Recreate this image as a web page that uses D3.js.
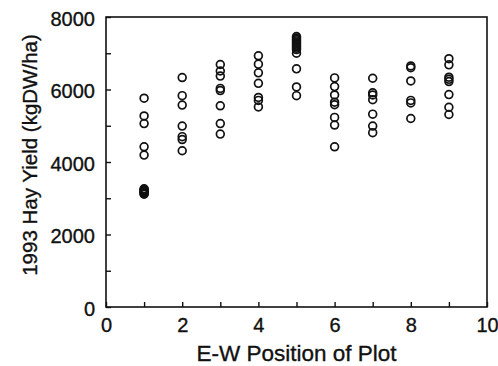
<!DOCTYPE html>
<html><head><meta charset="utf-8">
<script src="https://cdn.jsdelivr.net/npm/d3@7"></script>
<style>body{margin:0;background:#fff}svg text{font-family:"Liberation Sans",Arial,sans-serif;fill:#111;stroke:#111;stroke-width:0.35}</style>
</head><body>
<script>
const positions = [1, 2, 3, 4, 5, 6, 7, 8, 9];
const yieldsByPos = [
  [5760, 5270, 5060, 4420, 4190, 3260, 3240, 3215, 3195, 3175, 3150, 3130, 3110],
  [6330, 5830, 5570, 4990, 4700, 4620, 4310],
  [6690, 6510, 6370, 6030, 5970, 5550, 5060, 4770],
  [6930, 6700, 6460, 6170, 5780, 5700, 5520],
  [7460, 7420, 7380, 7340, 7300, 7260, 7220, 7180, 7140, 7100, 7000, 6570, 6070, 5830],
  [6320, 6080, 5850, 5650, 5580, 5230, 5020, 4420],
  [6310, 5910, 5850, 5720, 5320, 4990, 4810],
  [6650, 6600, 6235, 5700, 5630, 5200],
  [6850, 6680, 6340, 6280, 6220, 5860, 5510, 5310]
];
const xTicks = [0, 2, 4, 6, 8, 10];
const yTicks = [0, 2000, 4000, 6000, 8000];
const xTitle = "E-W Position of Plot";
const yTitle = "1993 Hay Yield (kgDW/ha)";

const W = 498, H = 366;
const m = {l: 106, r: 11, t: 17, b: 59};
const svg = d3.select("body").append("svg").attr("width", W).attr("height", H);
const x = d3.scaleLinear().domain([0, 10]).range([m.l, W - m.r]);
const y = d3.scaleLinear().domain([0, 8000]).range([H - m.b, m.t]);

const pts = [];
positions.forEach((p, i) => yieldsByPos[i].forEach(v => pts.push({p, v})));

// frame
svg.append("rect").attr("x", x(0)).attr("y", y(8000))
  .attr("width", x(10) - x(0)).attr("height", y(0) - y(8000))
  .attr("fill", "none").attr("stroke", "#111").attr("stroke-width", 1.6);

// x axis (inward ticks)
const xAx = svg.append("g").attr("transform", `translate(0,${y(0)})`)
  .call(d3.axisBottom(x).tickValues(d3.range(0, 11, 1)).tickSize(-5).tickSizeOuter(0).tickPadding(11)
    .tickFormat(d => xTicks.includes(d) ? d : ""));
xAx.select(".domain").remove();
xAx.selectAll("line").attr("stroke", "#111").attr("stroke-width", 1.4);
xAx.selectAll("text").attr("font-size", 20).attr("dy", "0.71em");

const yAx = svg.append("g").attr("transform", `translate(${x(0)},0)`)
  .call(d3.axisLeft(y).tickValues(d3.range(0, 8001, 1000)).tickSize(-5).tickSizeOuter(0).tickPadding(11)
    .tickFormat(d => yTicks.includes(d) ? d : ""));
yAx.select(".domain").remove();
yAx.selectAll("line").attr("stroke", "#111").attr("stroke-width", 1.4);
yAx.selectAll("text").attr("font-size", 20).attr("dy", "0.4em");

// points
svg.append("g").selectAll("circle").data(pts).join("circle")
  .attr("cx", d => x(d.p)).attr("cy", d => y(d.v)).attr("r", 3.9)
  .attr("fill", "none").attr("stroke", "#111").attr("stroke-width", 1.7);

// titles
svg.append("text").attr("x", (x(0) + x(10)) / 2).attr("y", 361)
  .attr("text-anchor", "middle").attr("font-size", 22.5).text(xTitle);
svg.append("text").attr("transform", `translate(37,155) rotate(-90)`)
  .attr("text-anchor", "middle").attr("font-size", 20.5).text(yTitle);
</script>
</body></html>
